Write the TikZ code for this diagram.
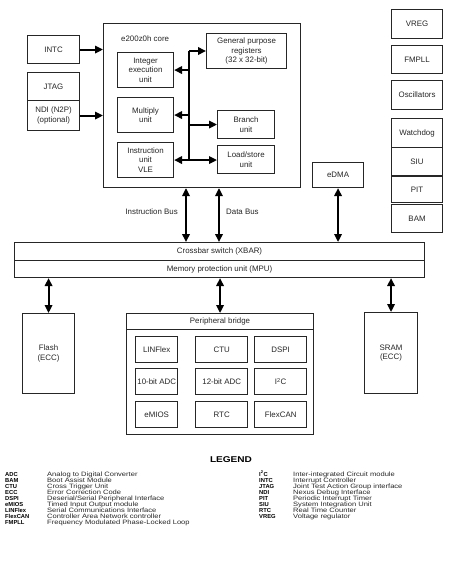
\documentclass[tikz,border=0pt]{standalone}
\usepackage{fontspec}
\setmainfont{Liberation Sans}
\newfontfamily\legfont[FakeStretch=1.2]{Liberation Sans}
\usetikzlibrary{arrows.meta}
\tikzset{
  box/.style={draw=black!85, line width=1.1pt, anchor=north west, inner sep=0pt,
    align=center, text=black!85, font=\fontsize{7.9}{9.4}\selectfont},
  cell/.style={box, line width=1.35pt},
  lbl/.style={inner sep=0pt, text=black!85, font=\fontsize{7.9}{9.4}\selectfont},
  bus/.style={line width=1.9pt, black},
  arr/.style={bus, -{Triangle[length=8pt,width=7.5pt]}},
  darr/.style={bus, {Triangle[length=8pt,width=7.5pt]}-{Triangle[length=8pt,width=7.5pt]}},
  legab/.style={inner sep=0pt, anchor=base west, text=black, font=\fontsize{5.8}{6}\selectfont\bfseries},
  legds/.style={inner sep=0pt, anchor=base west, text=black!85, font=\legfont\fontsize{6.3}{6.5}\selectfont},
}
\newcommand{\mybox}[5][box]{\node[#1, minimum width=#4, minimum height=#5] (#2) at (#3)}
\begin{document}
\begin{tikzpicture}[x=1pt,y=-1pt]
\useasboundingbox (0,0) rectangle (450,565);
% core
\mybox{core}{103,23}{197pt}{164pt} {};
\node[lbl, anchor=west] (corel) at (121,39) {e200z0h core};
\mybox{intc}{27,35}{52pt}{28pt} {INTC};
\mybox{jtag}{27,72}{52pt}{28pt} {JTAG};
\mybox{ndi}{27,100}{52pt}{30pt} {NDI (N2P)\\(optional)};
\mybox{int}{117,52}{56pt}{35pt} {Integer\\execution\\unit};
\mybox{mul}{117,97}{56pt}{35pt} {Multiply\\unit};
\mybox{ins}{117,142}{56pt}{35pt} {Instruction\\unit\\VLE};
\mybox{gpr}{206,33}{80pt}{35pt} {General purpose\\registers\\(32 x 32-bit)};
\mybox{br}{217,110}{57pt}{28pt} {Branch\\unit};
\mybox{ls}{217,145}{57pt}{28pt} {Load/store\\unit};
\mybox{edma}{312,162}{51pt}{25pt} {eDMA};
% right column
\mybox{vreg}{391,9}{51pt}{29pt} {VREG};
\mybox{fmpll}{391,45}{51pt}{28pt} {FMPLL};
\mybox{osc}{391,80}{51pt}{29pt} {Oscillators};
\mybox{wd}{391,118}{51pt}{29pt} {Watchdog};
\mybox{siu}{391,147}{51pt}{28pt} {SIU};
\mybox{pit}{391,176}{51pt}{26pt} {PIT};
\mybox{bam}{391,204}{51pt}{28pt} {BAM};
% crossbar
\mybox{xbar}{14,242}{410pt}{18pt} {Crossbar switch (XBAR)};
\mybox{mpu}{14,260}{410pt}{17pt} {Memory protection unit (MPU)};
% memories
\mybox{flash}{22,313}{52pt}{80pt} {Flash\\(ECC)};
\mybox{sram}{364,312}{53pt}{81pt} {SRAM\\(ECC)};
% peripheral bridge
\mybox{pb}{126,313}{187pt}{121pt} {};
\mybox{pbh}{126,313}{187pt}{16pt} {Peripheral bridge};
\mybox[cell]{c11}{135,336}{42pt}{26pt} {LINFlex};
\mybox[cell]{c12}{195,336}{52pt}{26pt} {CTU};
\mybox[cell]{c13}{254,336}{52pt}{26pt} {DSPI};
\mybox[cell]{c21}{135,368}{42pt}{26pt} {10-bit ADC};
\mybox[cell]{c22}{195,368}{52pt}{26pt} {12-bit ADC};
\mybox[cell]{c23}{254,368}{52pt}{26pt} {I\textsuperscript{2}C};
\mybox[cell]{c31}{135,401}{42pt}{26pt} {eMIOS};
\mybox[cell]{c32}{195,401}{52pt}{26pt} {RTC};
\mybox[cell]{c33}{254,401}{52pt}{26pt} {FlexCAN};
% connectors in core
\coordinate (busT) at (189,51);
\coordinate (busB) at (189,159);
\draw[bus] (busT) -- (busB);
\draw[arr] (intc.east) -- (intc.east -| core.west);
\draw[arr] (ndi.east) -- (ndi.east -| core.west);
\draw[arr] (busT) -- (busT -| gpr.west);
\draw[arr] (int.east -| busT) -- (int.east);
\draw[arr] (mul.east -| busT) -- (mul.east);
\draw[arr] (br.west -| busT) -- (br.west);
\draw[darr] (ins.east) -- (ins.east -| ls.west);
% buses
\coordinate (ib) at (186,0);
\coordinate (db) at (219,0);
\draw[darr] (core.south -| ib) -- (xbar.north -| ib);
\draw[darr] (core.south -| db) -- (xbar.north -| db);
\draw[darr] (edma.south) -- (xbar.north -| edma.south);
\node[lbl, anchor=east] (ibl) at (178,212) {Instruction Bus};
\node[lbl, anchor=west] (dbl) at (226,212) {Data Bus};
\draw[darr] (mpu.south -| flash.north) -- (flash.north);
\draw[darr] (mpu.south -| pb.north) -- (pb.north);
\draw[darr] (mpu.south -| sram.north) -- (sram.north);
% legend
\node[inner sep=0pt, anchor=base, text=black, font=\legfont\fontsize{8.4}{9}\selectfont\bfseries] (leg) at (231,462) {LEGEND};
\node[legab] (a1) at (5,476.0) {ADC};     \node[legds] (d1) at (47,476.0) {Analog to Digital Converter};
\node[legab] (a2) at (5,482.1) {BAM};     \node[legds] (d2) at (47,482.1) {Boot Assist Module};
\node[legab] (a3) at (5,488.2) {CTU};     \node[legds] (d3) at (47,488.2) {Cross Trigger Unit};
\node[legab] (a4) at (5,494.3) {ECC};     \node[legds] (d4) at (47,494.3) {Error Correction Code};
\node[legab] (a5) at (5,500.4) {DSPI};    \node[legds] (d5) at (47,500.4) {Deserial/Serial Peripheral Interface};
\node[legab] (a6) at (5,506.5) {eMIOS};   \node[legds] (d6) at (47,506.5) {Timed Input Output module};
\node[legab] (a7) at (5,512.6) {LINFlex}; \node[legds] (d7) at (47,512.6) {Serial Communications Interface};
\node[legab] (a8) at (5,518.7) {FlexCAN}; \node[legds] (d8) at (47,518.7) {Controller Area Network controller};
\node[legab] (a9) at (5,524.8) {FMPLL};   \node[legds] (d9) at (47,524.8) {Frequency Modulated Phase-Locked Loop};
\node[legab] (b1) at (259,476.0) {I\textsuperscript{2}C}; \node[legds] (e1) at (293,476.0) {Inter-integrated Circuit module};
\node[legab] (b2) at (259,482.1) {INTC};  \node[legds] (e2) at (293,482.1) {Interrupt Controller};
\node[legab] (b3) at (259,488.2) {JTAG};  \node[legds] (e3) at (293,488.2) {Joint Test Action Group interface};
\node[legab] (b4) at (259,494.3) {NDI};   \node[legds] (e4) at (293,494.3) {Nexus Debug Interface};
\node[legab] (b5) at (259,500.4) {PIT};   \node[legds] (e5) at (293,500.4) {Periodic Interrupt Timer};
\node[legab] (b6) at (259,506.5) {SIU};   \node[legds] (e6) at (293,506.5) {System Integration Unit};
\node[legab] (b7) at (259,512.6) {RTC};   \node[legds] (e7) at (293,512.6) {Real Time Counter};
\node[legab] (b8) at (259,518.7) {VREG};  \node[legds] (e8) at (293,518.7) {Voltage regulator};
\end{tikzpicture}
\end{document}
